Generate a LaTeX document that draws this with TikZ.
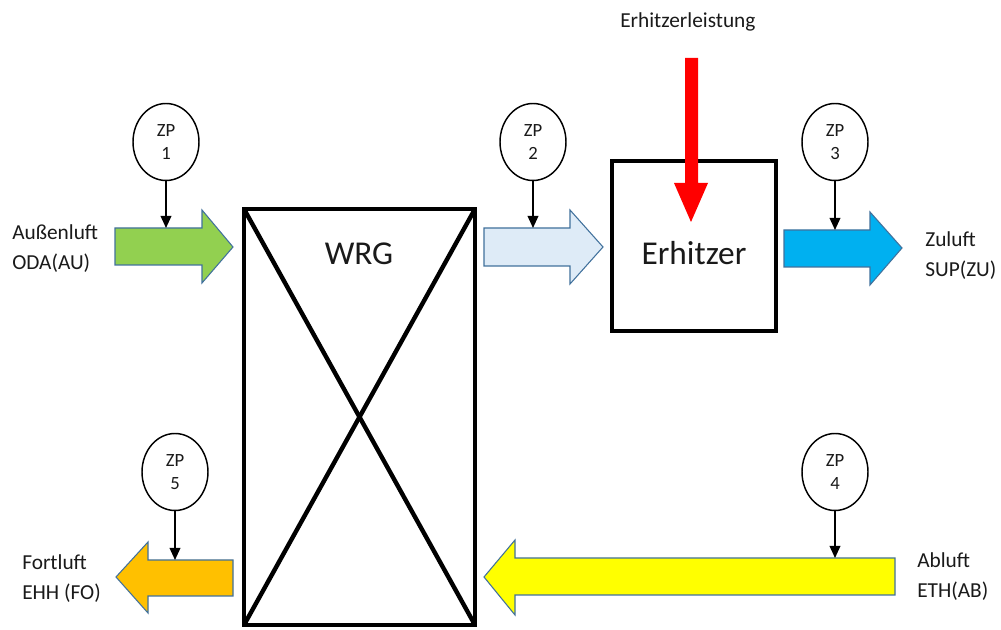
\documentclass[tikz,border=0pt]{standalone}
\usepackage{fontspec}
\setmainfont{Carlito}
\usetikzlibrary{arrows.meta,shapes.geometric}
\definecolor{txt}{HTML}{1A1A1A}
\definecolor{edgeblue}{HTML}{41719C}
\definecolor{airgreen}{HTML}{92D050}
\definecolor{airlight}{HTML}{DEEBF7}
\definecolor{airblue}{HTML}{00B0F0}
\definecolor{airorange}{HTML}{FFC000}
\definecolor{airyellow}{HTML}{FFFF00}
\begin{document}
\begin{tikzpicture}[x=0.75pt,y=-0.75pt,
  blockarrow/.style={draw=edgeblue,line width=0.8pt,line join=miter},
  zp/.style={ellipse,draw=black,line width=1.1pt,minimum width=49.5pt,minimum height=57.75pt,inner sep=0pt,align=center,font=\fontsize{14}{17.5}\selectfont,text=txt},
  probe/.style={-{Triangle[length=9pt,width=8pt]},line width=1.1pt},
  lbl/.style={anchor=base west,inner sep=0pt,font=\fontsize{16}{20}\selectfont,text=txt},
  big/.style={anchor=base,inner sep=0pt,font=\fontsize{25}{30}\selectfont,text=txt},
  unit/.style={draw=black,outer sep=0pt,inner sep=0pt}]
\useasboundingbox[fill=white] (0,0) rectangle (1001,630);

% block arrows (air flows)
\filldraw[blockarrow,fill=airgreen] (115,228) -- (202,228) -- (202,210) -- (233,247) -- (202,283) -- (202,265) -- (115,265) -- cycle;
\filldraw[blockarrow,fill=airlight] (484,228) -- (570,228) -- (570,210) -- (603,247) -- (570,284) -- (570,266) -- (484,266) -- cycle;
\filldraw[blockarrow,fill=airblue] (784,230) -- (870,230) -- (870,212) -- (902,248) -- (870,285) -- (870,267) -- (784,267) -- cycle;
\filldraw[blockarrow,fill=airyellow] (895,558) -- (515,558) -- (515,540) -- (484,577) -- (515,615) -- (515,595) -- (895,595) -- cycle;
\filldraw[blockarrow,fill=airorange] (233,560) -- (148,560) -- (148,542) -- (116,577) -- (148,613) -- (148,596) -- (233,596) -- cycle;

% WRG
\node[unit,line width=3.3pt,minimum width=173.25pt,minimum height=312pt] (wrg) at (359.5,417) {};
\draw[line width=3.3pt] (wrg.north west) -- (wrg.south east);
\draw[line width=3.3pt] (wrg.north east) -- (wrg.south west);
\node[big] (wrgtxt) at (359,265) {WRG};

% Erhitzer
\node[unit,line width=3pt,minimum width=123pt,minimum height=127.5pt] (erh) at (693.5,246.5) {};
\node[big] (erhtxt) at (694,265) {Erhitzer};

% heating power arrow
\fill[red] (685,58) -- (698,58) -- (698,183) -- (708,183) -- (691,222) -- (674,183) -- (685,183) -- cycle;
\node[lbl] (leist) at (620,28) {Erhitzerleistung};

% measuring points
\node[zp] (zp1) at (166,142) {ZP\\1};
\node[zp] (zp2) at (533,142) {ZP\\2};
\node[zp] (zp3) at (835,142) {ZP\\3};
\node[zp] (zp4) at (835,472) {ZP\\4};
\node[zp] (zp5) at (175,472) {ZP\\5};
\coordinate (p1) at (166,228);
\coordinate (p2) at (533,228);
\coordinate (p3) at (835,230);
\coordinate (p4) at (835,558);
\coordinate (p5) at (175,560);
\draw[probe] (zp1) -- (p1);
\draw[probe] (zp2) -- (p2);
\draw[probe] (zp3) -- (p3);
\draw[probe] (zp4) -- (p4);
\draw[probe] (zp5) -- (p5);

% labels
\node[lbl] (oda1) at (12,240) {Außenluft};
\node[lbl] (oda2) at (12,270) {ODA(AU)};
\node[lbl] (sup1) at (925,247) {Zuluft};
\node[lbl] (sup2) at (925,277) {SUP(ZU)};
\node[lbl] (ehh1) at (22,570) {Fortluft};
\node[lbl] (ehh2) at (22,600) {EHH (FO)};
\node[lbl] (eth1) at (917,568) {Abluft};
\node[lbl] (eth2) at (917,598) {ETH(AB)};
\end{tikzpicture}
\end{document}
